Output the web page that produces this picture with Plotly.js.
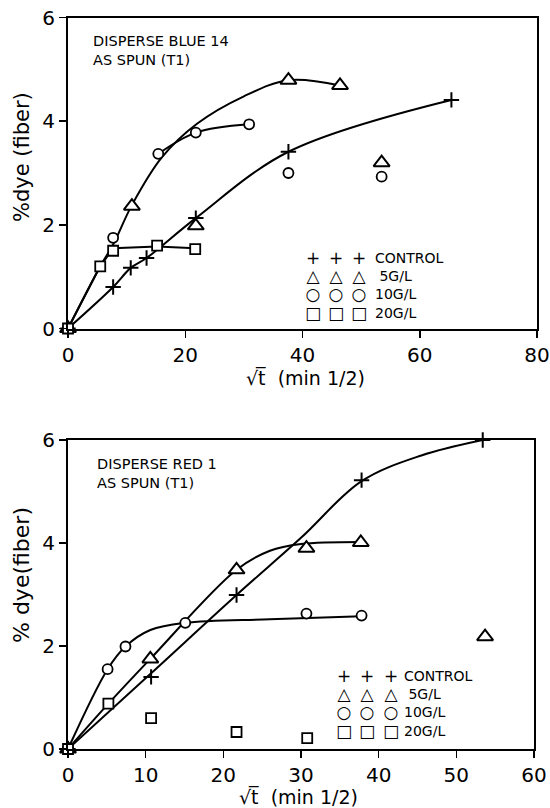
<!DOCTYPE html>
<html>
<head>
<meta charset="utf-8">
<script src="https://cdn.plot.ly/plotly-3.0.1.min.js"></script>
<style>html,body{margin:0;padding:0;background:#fff;}#chart{width:550px;height:808px;}</style>
</head>
<body>
<div id="chart"></div>
<script>
// ---------- Top panel: DISPERSE BLUE 14, AS SPUN (T1) ----------
const topCtrlX = [0, 7.7, 10.7, 13.4, 21.8, 37.6, 65.4];
const topCtrlY = [0, 0.80, 1.17, 1.36, 2.13, 3.41, 4.41];
const top5X = [0, 10.9, 21.8, 37.6, 46.4, 53.5];
const top5Y = [0, 2.36, 1.98, 4.79, 4.69, 3.2];
const top10X = [0, 7.7, 15.4, 21.8, 30.9, 37.6, 53.5];
const top10Y = [0, 1.75, 3.37, 3.78, 3.94, 3.0, 2.93];
const top20X = [0, 5.5, 7.7, 15.2, 21.7];
const top20Y = [0, 1.2, 1.5, 1.6, 1.53];
// fitted curves drawn in the figure
const topCurve5X = [0, 5.5, 7.7, 10.9, 16, 22, 30, 37.6, 46.4];
const topCurve5Y = [0, 1.2, 1.62, 2.38, 3.3, 3.95, 4.48, 4.79, 4.69];
const topCurve10X = [15.4, 21.8, 30.9];
const topCurve10Y = [3.37, 3.78, 3.94];
const topCurve20X = [0, 5.5, 7.7, 15.2, 21.7];
const topCurve20Y = [0, 1.2, 1.55, 1.58, 1.55];

// ---------- Bottom panel: DISPERSE RED 1, AS SPUN (T1) ----------
const botCtrlX = [0, 10.7, 21.7, 37.8, 53.4];
const botCtrlY = [0, 1.40, 2.99, 5.22, 6.0];
const bot5X = [0, 10.6, 21.7, 30.7, 37.7, 53.7];
const bot5Y = [0, 1.75, 3.48, 3.90, 4.01, 2.18];
const bot10X = [0, 5.1, 7.4, 15.1, 30.7, 37.8];
const bot10Y = [0, 1.55, 1.99, 2.45, 2.63, 2.59];
const bot20X = [0, 5.2, 10.7, 21.7, 30.8];
const bot20Y = [0, 0.88, 0.6, 0.33, 0.21];
const botCurveCtrlX = [0, 10.7, 21.7, 30, 37.8, 45.5, 53.4];
const botCurveCtrlY = [0, 1.47, 2.99, 4.1, 5.2, 5.7, 6.0];
const botCurve5X = [0, 5.2, 10.6, 21.7, 26, 30, 37.7];
const botCurve5Y = [0, 0.88, 1.75, 3.48, 3.85, 3.98, 4.02];
const botCurve10X = [0, 5.1, 7.4, 10.6, 15.1, 26, 37.8];
const botCurve10Y = [0, 1.55, 1.99, 2.31, 2.45, 2.52, 2.58];

// tick values
const topXTicks = [0, 20, 40, 60, 80];
const botXTicks = [0, 10, 20, 30, 40, 50, 60];
const yTicks = [0, 2, 4, 6];

// key text
const legendLabels = ['CONTROL', '\u00A05G/L', '10G/L', '20G/L'];
const legendGlyphs = ['+', '\u25B3', '\u25CB', '\u25A1'];

const W = 550, H = 808;
const px = x => x / W;
const py = y => 1 - y / H;
const FONT = 'DejaVu Sans, Liberation Sans, sans-serif';

function curve(x, y, xa, ya, shape) {
  return {x: x, y: y, xaxis: xa, yaxis: ya, mode: 'lines', type: 'scatter',
    line: {color: '#000', width: 2, shape: shape || 'spline', smoothing: 1},
    hoverinfo: 'skip', showlegend: false};
}
const MK = {
  ctrl: {symbol: 'cross-thin-open', size: 11, color: '#000', line: {color: '#000', width: 2}},
  g5: {symbol: 'triangle-up', size: 14, color: '#fff', line: {color: '#000', width: 2}},
  g10: {symbol: 'circle', size: 10, color: '#fff', line: {color: '#000', width: 1.8}},
  g20: {symbol: 'square', size: 10, color: '#fff', line: {color: '#000', width: 1.8}}
};
function pts(x, y, xa, ya, mk) {
  return {x: x, y: y, xaxis: xa, yaxis: ya, mode: 'markers', type: 'scatter',
    marker: mk, cliponaxis: false, showlegend: false, hoverinfo: 'x+y'};
}

const data = [
  curve(topCtrlX, topCtrlY, 'x', 'y'),
  curve(topCurve5X, topCurve5Y, 'x', 'y'),
  curve(topCurve10X, topCurve10Y, 'x', 'y'),
  curve(topCurve20X, topCurve20Y, 'x', 'y', 'linear'),
  pts(topCtrlX, topCtrlY, 'x', 'y', MK.ctrl),
  pts(top5X, top5Y, 'x', 'y', MK.g5),
  pts(top10X, top10Y, 'x', 'y', MK.g10),
  pts(top20X, top20Y, 'x', 'y', MK.g20),

  curve(botCurveCtrlX, botCurveCtrlY, 'x2', 'y2'),
  curve(botCurve5X, botCurve5Y, 'x2', 'y2'),
  curve(botCurve10X, botCurve10Y, 'x2', 'y2'),
  pts(botCtrlX, botCtrlY, 'x2', 'y2', MK.ctrl),
  pts(bot5X, bot5Y, 'x2', 'y2', MK.g5),
  pts(bot10X, bot10Y, 'x2', 'y2', MK.g10),
  pts(bot20X, bot20Y, 'x2', 'y2', MK.g20)
];

function axis(domain, range, ticks, anchor) {
  return {domain: domain, range: range, anchor: anchor, tickvals: ticks,
    ticktext: ticks.map(String), showline: true, mirror: true, linecolor: '#000',
    linewidth: 2, ticks: 'outside', ticklen: 7, tickwidth: 1.5, tickcolor: '#000',
    showgrid: false, zeroline: false, fixedrange: true,
    tickfont: {family: FONT, size: 20, color: '#000'}};
}

const ann = [];
function txt(t, x, y, size, opts) {
  ann.push(Object.assign({text: t, xref: 'paper', yref: 'paper', x: px(x), y: py(y),
    xanchor: 'left', yanchor: 'middle', showarrow: false,
    font: {family: FONT, size: size, color: '#000'}}, opts || {}));
}
// panel labels (two lines each)
txt('DISPERSE BLUE 14<br>AS SPUN (T1)', 91, 50, 14.5, {align: 'left'});
txt('DISPERSE RED 1<br>AS SPUN (T1)', 95, 473, 14.5, {align: 'left'});
// axis titles
txt('\u221At\u0305  (min 1/2)', 305, 377, 19, {xanchor: 'center'});
txt('\u221At\u0305  (min 1/2)', 298, 796, 19, {xanchor: 'center'});
txt('%dye (fiber)', 22, 157, 21, {xanchor: 'center', textangle: -90});
txt('% dye(fiber)', 21, 575, 22, {xanchor: 'center', textangle: -90});
// key blocks: three symbol columns + one label column (multi-line texts)
const symCol = legendGlyphs.map(g => '<span style="font-size:17px">' + g + '</span>').join('<br>');
const labCol = legendLabels.join('<br>');
const topKeyY = 285, botKeyY = 703;
for (const c of [313, 336, 359]) txt(symCol, c, topKeyY, 14, {xanchor: 'center', align: 'center'});
txt(labCol, 373, topKeyY, 14, {align: 'left'});
for (const c of [344, 367, 391]) txt(symCol, c, botKeyY, 14, {xanchor: 'center', align: 'center'});
txt(labCol, 402, botKeyY, 14, {align: 'left'});

const layout = {
  width: W, height: H, margin: {l: 0, r: 0, t: 0, b: 0},
  paper_bgcolor: '#fff', plot_bgcolor: '#fff', showlegend: false,
  xaxis: axis([px(68), px(537)], [0, 80], topXTicks, 'y'),
  yaxis: axis([py(328.5), py(17.5)], [0, 6], yTicks, 'x'),
  xaxis2: axis([px(68), px(534)], [0, 60], botXTicks, 'y2'),
  yaxis2: axis([py(749), py(440)], [0, 6], yTicks, 'x2'),
  annotations: ann
};
Plotly.newPlot('chart', data, layout, {displayModeBar: false, staticPlot: true});
</script>
</body>
</html>
